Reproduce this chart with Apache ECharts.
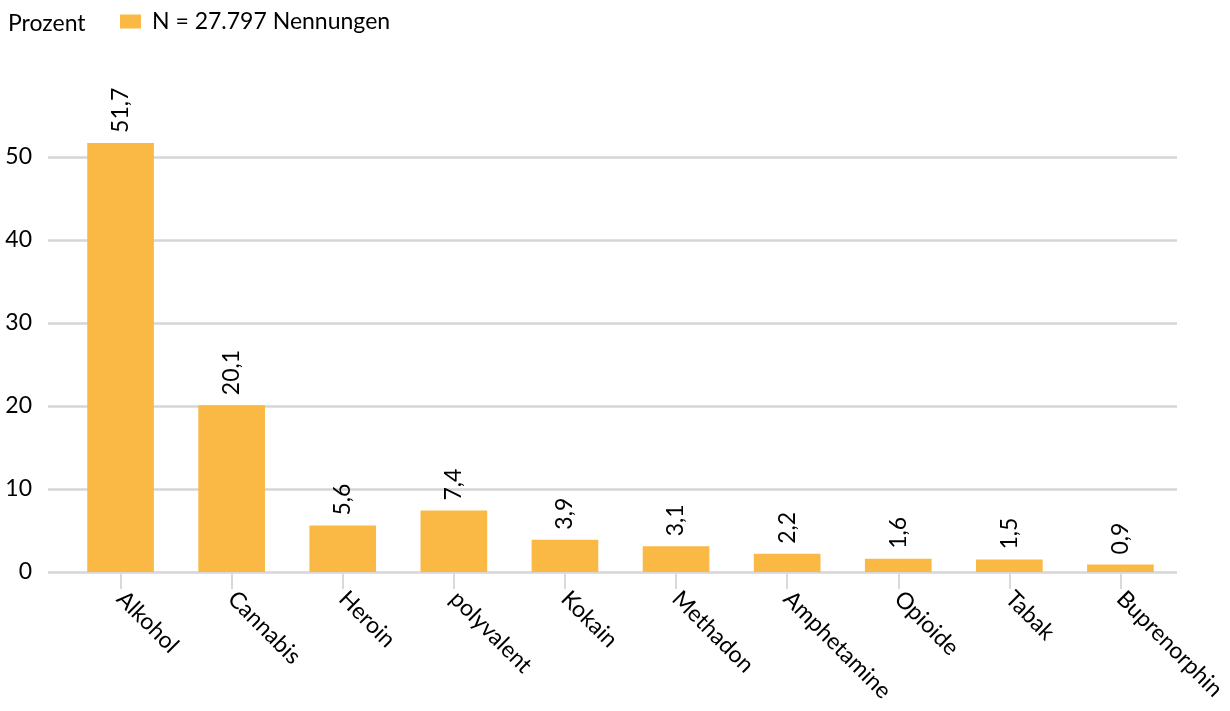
<!DOCTYPE html>
<html>
<head>
<meta charset="utf-8">
<script src="https://cdn.jsdelivr.net/npm/echarts@6/dist/echarts.min.js"></script>
<style>
html,body{margin:0;padding:0;background:#fff;}
#chart{width:1230px;height:711px;}
</style>
</head>
<body>
<div id="chart"></div>
<script>
var categories = ['Alkohol','Cannabis','Heroin','polyvalent','Kokain','Methadon','Amphetamine','Opioide','Tabak','Buprenorphin'];
var values = [51.7, 20.1, 5.6, 7.4, 3.9, 3.1, 2.2, 1.6, 1.5, 0.9];
var seriesName = 'N = 27.797 Nennungen';
var unitLabel = 'Prozent';
var yTicks = [0, 10, 20, 30, 40, 50];

var FONT = 'Lato';
var FS = 23;
var chart = echarts.init(document.getElementById('chart'));
chart.setOption({
  animation: false,
  textStyle: {fontFamily: FONT},
  title: {
    text: unitLabel, left: 3, top: 7,
    textStyle: {fontFamily: FONT, fontSize: FS, fontWeight: 'normal', color: '#000'}
  },
  legend: {
    left: 115, top: 5, icon: 'rect', itemWidth: 21, itemHeight: 14, itemGap: 10,
    textStyle: {fontFamily: FONT, fontSize: FS, color: '#000', padding: [0,0,0,6]},
    data: [seriesName]
  },
  grid: [
    {left: 48, right: 53, top: 157, bottom: 139},
    {left: 65, right: 54, top: 157, bottom: 139}
  ],
  xAxis: [
    {gridIndex: 0, type: 'value', min: 0, max: 1, show: false},
    {gridIndex: 1, type: 'category', data: categories,
     axisLine: {show: false},
     axisTick: {show: true, alignWithLabel: true, length: 17, lineStyle: {color: '#d9d9d9', width: 2}},
     axisLabel: {rotate: -45, margin: 23, fontFamily: FONT, fontSize: FS, color: '#000', interval: 0}
    }
  ],
  yAxis: [
    {gridIndex: 0, type: 'value', min: yTicks[0], max: yTicks[yTicks.length-1], interval: 10,
     axisLine: {show: false}, axisTick: {show: false},
     axisLabel: {margin: 16, fontFamily: FONT, fontSize: FS, color: '#000'},
     splitLine: {lineStyle: {color: '#d6d6d6', width: 2.5}}
    },
    {gridIndex: 1, type: 'value', min: yTicks[0], max: yTicks[yTicks.length-1], show: false}
  ],
  series: [{
    name: seriesName, type: 'bar', xAxisIndex: 1, yAxisIndex: 1,
    data: values, barWidth: '60%', clip: false,
    itemStyle: {color: '#F9B944'},
    label: {
      show: true, position: 'top', rotate: 90, distance: 10,
      align: 'left', verticalAlign: 'middle',
      fontFamily: FONT, fontSize: FS, color: '#000',
      formatter: function(p){ return String(p.value).replace('.', ','); }
    }
  }]
});
</script>
</body>
</html>
